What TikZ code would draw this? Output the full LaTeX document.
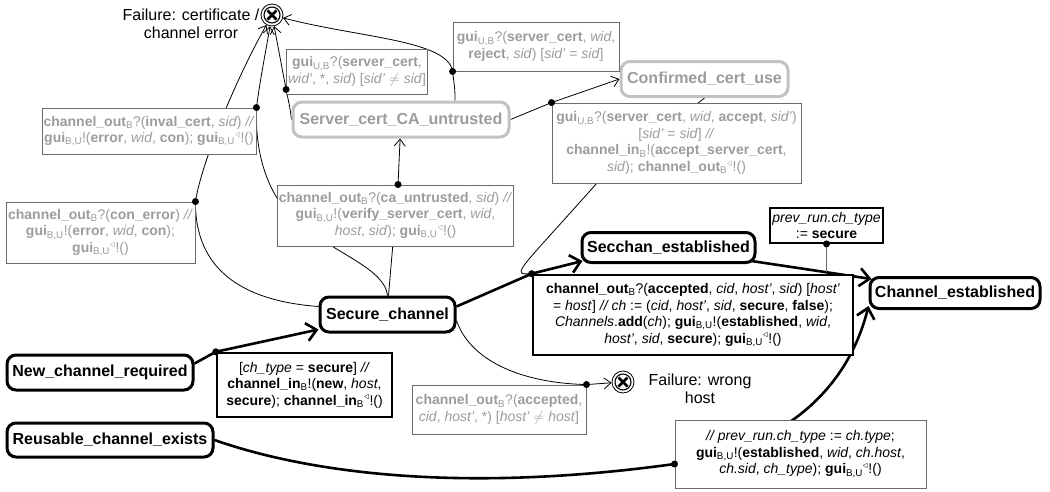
\documentclass[tikz,border=0pt]{standalone}
\usepackage{fontspec}
\setmainfont{Liberation Sans}
\usetikzlibrary{arrows.meta,calc}
\pgfdeclarelayer{bg}
\pgfsetlayers{bg,main}
\definecolor{gtext}{HTML}{9C9C9C}
\definecolor{gborder}{HTML}{6A6A6A}
\definecolor{gstate}{HTML}{C2C2C2}
\newcommand\guiBU{\textbf{gui}\textsubscript{B,U}}
\newcommand\guiUB{\textbf{gui}\textsubscript{U,B}}
\newcommand\choutB{\textbf{channel\_out}\textsubscript{B}}
\newcommand\chinB{\textbf{channel\_in}\textsubscript{B}}
\newcommand\trisup{\textsuperscript{$\triangleleft$}}
\begin{document}
\begin{tikzpicture}[x=1pt,y=-1pt,
  stbox/.style={draw, line width=3pt, rounded corners=9pt, fill=white, inner sep=2pt, font=\fontsize{16}{18}\selectfont\bfseries},
  gstbox/.style={stbox, draw=gstate, text=gtext},
  lbl/.style={draw=gborder, line width=0.9pt, fill=white, text=gtext, inner sep=1.5pt, align=center, font=\fontsize{14}{16.5}\selectfont},
  blbl/.style={draw=black, fill=white, text=black, inner sep=1.5pt, align=center, font=\fontsize{14}{16.5}\selectfont},
  wh/.style 2 args={minimum width=#1pt, minimum height=#2pt},
  conn/.style={line width=0.8pt},
  mainconn/.style={line width=2.6pt},
  tarr/.style={-{Straight Barb[length=7pt,width=11pt]}},
  Tarr/.style={-{Straight Barb[length=10pt,width=18pt]}},
  failbox/.style={circle, draw, line width=0.8pt, minimum size=22pt, inner sep=0pt, fill=white},
  faillbl/.style={font=\fontsize{16}{18}\selectfont, align=center}
]
\useasboundingbox (0,0) rectangle (1050,491);

% states
\node[stbox, wh={186}{35}] (newreq) at (100,372.5) {New\_channel\_required};
\node[stbox, wh={206}{34}] (reuse) at (110,440) {Reusable\_channel\_exists};
\node[stbox, wh={135}{35}] (secure) at (387.5,314.5) {Secure\_channel};
\node[stbox, wh={173}{30}] (secchan) at (668.5,247.5) {Secchan\_established};
\node[stbox, wh={170}{31}] (chest) at (955,293) {Channel\_established};
\node[gstbox, wh={216}{35}] (scau) at (401,119.5) {Server\_cert\_CA\_untrusted};
\node[gstbox, wh={167}{35}] (conf) at (704.5,79) {Confirmed\_cert\_use};

% failures
\node[failbox] (fail1) at (272,15) {};
\node[failbox] (fail2) at (623,382) {};
\node[faillbl] (fail1lbl) at (191,24) {Failure: certificate /\\channel error};
\node[faillbl] (fail2lbl) at (700,389) {Failure: wrong\\host};

% transition labels
\node[lbl, wh={166}{49}] (A) at (536,46.5) {\guiUB?(\textbf{server\_cert}, \textit{wid},\\ \textbf{reject}, \textit{sid}) {[}\textit{sid'} = \textit{sid}{]}};
\node[lbl, wh={140}{45}] (B) at (357,71.5) {\guiUB?(\textbf{server\_cert},\\ \textit{wid'}, *, \textit{sid}) {[}\textit{sid'} $\neq$ \textit{sid}{]}};
\node[lbl, wh={249}{80}] (C) at (676.5,143) {\guiUB?(\textbf{server\_cert}, \textit{wid}, \textbf{accept}, \textit{sid'})\\ {[}\textit{sid'} = \textit{sid}{]} \textit{//}\\ \chinB!(\textbf{accept\_server\_cert},\\ \textit{sid}); \choutB\trisup!()};
\node[lbl, wh={214}{46}] (D) at (149,131) {\choutB?(\textbf{inval\_cert}, \textit{sid}) \textit{//}\\ \guiBU!(\textbf{error}, \textit{wid}, \textbf{con}); \guiBU\trisup!()};
\node[lbl, wh={189}{61}] (E) at (100.5,232.5) {\choutB?(\textbf{con\_error}) \textit{//}\\ \guiBU!(\textbf{error}, \textit{wid}, \textbf{con});\\ \guiBU\trisup!()};
\node[lbl, wh={235}{61}] (F) at (395.5,215.5) {\choutB?(\textbf{ca\_untrusted}, \textit{sid}) \textit{//}\\ \guiBU!(\textbf{verify\_server\_cert}, \textit{wid},\\ \textit{host}, \textit{sid}); \guiBU\trisup!()};
\node[blbl, line width=1.8pt, wh={113}{35}] (G) at (826.5,225.5) {\textit{prev\_run.ch\_type}\\ := \textbf{secure}};
\node[blbl, line width=2.6pt, wh={320}{80}] (H) at (693,315) {\choutB?(\textbf{accepted}, \textit{cid}, \textit{host'}, \textit{sid}) {[}\textit{host'}\\ = \textit{host}{]} \textit{// ch} := (\textit{cid}, \textit{host'}, \textit{sid}, \textbf{secure}, \textbf{false});\\ \textit{Channels}.\textbf{add}(\textit{ch}); \guiBU!(\textbf{established}, \textit{wid},\\ \textit{host'}, \textit{sid}, \textbf{secure}); \guiBU\trisup!()};
\node[blbl, line width=2.4pt, wh={175}{64}] (I) at (304.5,385) {{[}\textit{ch\_type} = \textbf{secure}{]} \textit{//}\\ \chinB!(\textbf{new}, \textit{host},\\ \textbf{secure}); \chinB\trisup!()};
\node[blbl, draw=gborder, line width=0.9pt, wh={251}{68}] (J) at (800.5,454) {\textit{// prev\_run.ch\_type} := \textit{ch.type};\\ \guiBU!(\textbf{established}, \textit{wid}, \textit{ch.host},\\ \textit{ch.sid}, \textit{ch\_type}); \guiBU\trisup!()};
\node[lbl, wh={174}{49}] (K) at (499,409.5) {\choutB?(\textbf{accepted},\\ \textit{cid}, \textit{host'}, *) {[}\textit{host'} $\neq$ \textit{host}{]}};

% junction points
\coordinate (dI) at (I.north west);
\coordinate (dH) at (H.north west);
\coordinate (dJ) at ([yshift=-10pt]J.west);
\coordinate (dK) at (K.north east);
\coordinate (dE) at (E.north east);
\coordinate (dD) at (D.north east);
\coordinate (dB) at ([yshift=5pt]B.south west);
\coordinate (dA) at (A.south west);
\coordinate (dC) at (C.north west);
\coordinate (dF) at ([xshift=2.5pt]F.north);
\coordinate (dG) at (G.south);

\begin{pgfonlayer}{bg}
\fill[white] (0,0) rectangle (1050,491);
% main transitions
\draw[mainconn, Tarr] ([yshift=9pt]newreq.east) -- (dI) -- (secure);
\draw[mainconn, Tarr] ([yshift=8pt]secure.east) -- (dH) -- ([xshift=2pt,yshift=3pt]secchan.south west);
\draw[mainconn, Tarr] ([xshift=-5pt,yshift=3pt]secchan.south east) -- coordinate[pos=0.62] (gl) ([xshift=3pt,yshift=-3pt]chest.north west);
\draw[conn, gborder] (dG) -- (dG |- gl);
\draw[mainconn, Tarr] (reuse.east) .. controls (300,470) and (450,495) .. (dJ) .. controls (770,451) and (845,400) .. ([yshift=4pt]chest.south west);
% thin transitions
\draw[conn, tarr] ([yshift=-6pt]secure.east) .. controls (470,360) and (520,383) .. (dK) -- (fail2);
\draw[conn, tarr] ([yshift=8pt]secure.west) .. controls (230,300) and (195,260) .. (dE) .. controls (200,170) and (230,90) .. (fail1);
\draw[conn, tarr] (secure.north) .. controls (385,270) and (340,255) .. (300,225) .. controls (265,195) and (255,150) .. (dD) .. controls (260,80) and (266,50) .. (fail1);
\draw[conn, tarr] ([xshift=1pt]secure.north) -- (dF) -- (scau);
\draw[conn, tarr] (scau.west) .. controls (290,108) .. (dB) -- (fail1);
\draw[conn, tarr] ([xshift=54pt]scau.north) .. controls (455,90) .. (dA) .. controls (448,40) and (360,38) .. (fail1);
\draw[conn, tarr] (scau.east) -- (dC) -- (conf.west);
\draw[conn] (conf.south) -- (597,183) .. controls (517,273) and (510,275) .. (dH);
\end{pgfonlayer}

% failure symbols
\foreach \f in {fail1,fail2} {
  \draw[line width=1.1pt] (\f.center) circle (8pt);
  \draw[line width=2.6pt] ([shift={(-4.5,-4.5)}]\f.center) -- ([shift={(4.5,4.5)}]\f.center);
  \draw[line width=2.6pt] ([shift={(-4.5,4.5)}]\f.center) -- ([shift={(4.5,-4.5)}]\f.center);
}
% junction dots
\foreach \d in {dI,dH,dJ,dK,dE,dD,dB,dA,dC,dF,dG}
  \fill (\d) circle (3.5pt);
\end{tikzpicture}
\end{document}
